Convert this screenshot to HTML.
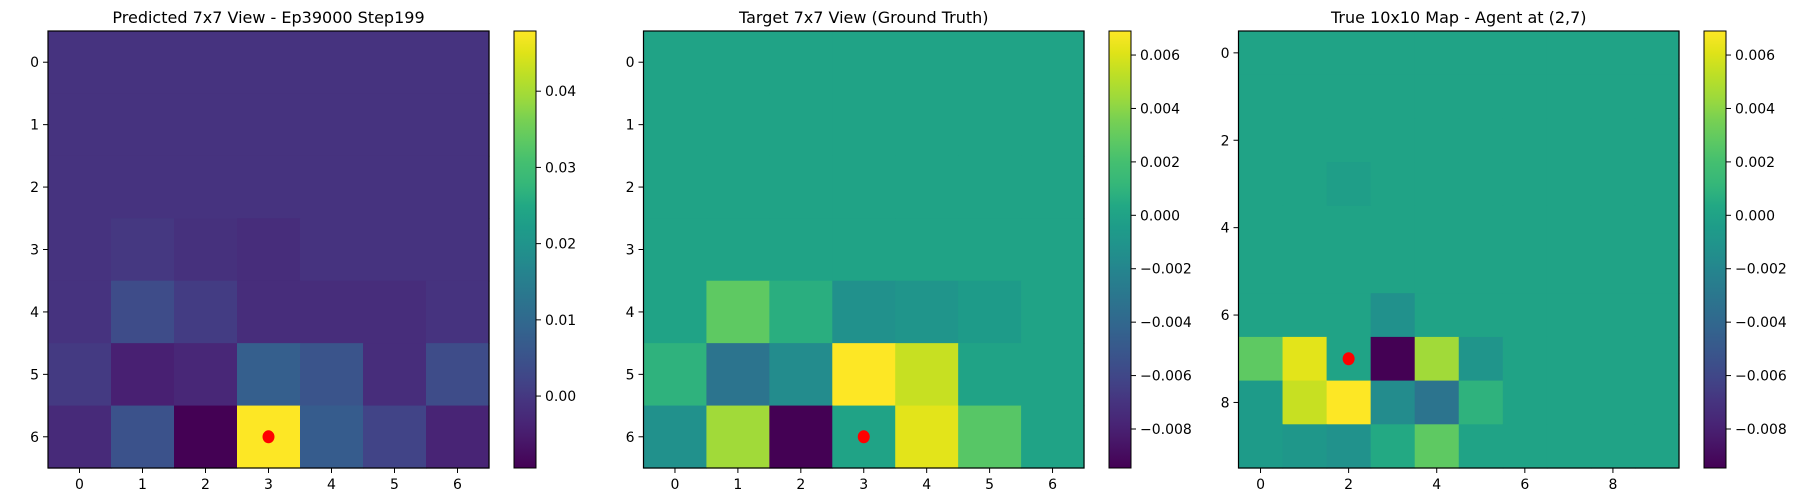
<!DOCTYPE html>
<html><head><meta charset="utf-8"><style>
body{margin:0;background:#fff;}
svg{display:block;font-family:"DejaVu Sans","Liberation Sans",sans-serif;}
</style></head><body>
<svg id="fig" width="1800" height="500"></svg>
<script>
const p1Title = "Predicted 7x7 View - Ep39000 Step199";
const p2Title = "Target 7x7 View (Ground Truth)";
const p3Title = "True 10x10 Map - Agent at (2,7)";
const p1Range = [-0.00944, 0.0479];
const p2Range = [-0.00946, 0.0069];
const p3Range = [-0.00946, 0.0069];
// panel 1 values (7x7)
const p1Values = [
 [-0.0009,-0.0009,-0.0009,-0.0009,-0.0009,-0.0009,-0.0009],
 [-0.0009,-0.0009,-0.0009,-0.0009,-0.0009,-0.0009,-0.0009],
 [-0.0009,-0.0009,-0.0009,-0.0009,-0.0009,-0.0009,-0.0009],
 [-0.0009,0.0000,-0.0013,-0.0020,-0.0009,-0.0009,-0.0009],
 [-0.0009,0.0037,0.0007,-0.0020,-0.0020,-0.0020,-0.0009],
 [0.0003,-0.0043,-0.0031,0.0077,0.0054,-0.0020,0.0037],
 [-0.0026,0.0048,-0.0094,0.0479,0.0072,0.0020,-0.0037]
];
const p2Values = [
 [0,0,0,0,0,0,0],[0,0,0,0,0,0,0],[0,0,0,0,0,0,0],[0,0,0,0,0,0,0],
 [0,0.0028,0.0007,-0.0013,-0.0010,-0.0005,0],
 [0.0009,-0.0032,-0.0016,0.0069,0.0055,0,0],
 [-0.0013,0.0045,-0.0095,0,0.0062,0.0026,0]
];
const p3Values = [
 [0,0,0,0,0,0,0,0,0,0],[0,0,0,0,0,0,0,0,0,0],[0,0,0,0,0,0,0,0,0,0],
 [0,0,-0.0003,0,0,0,0,0,0,0],[0,0,0,0,0,0,0,0,0,0],[0,0,0,0,0,0,0,0,0,0],
 [0,0,0,-0.0013,0,0,0,0,0,0],
 [0.0028,0.0062,0,-0.0095,0.0045,-0.0010,0,0,0,0],
 [-0.0005,0.0055,0.0069,-0.0016,-0.0032,0.0009,0,0,0,0],
 [-0.0005,-0.0008,-0.0012,0.0004,0.0028,0,0,0,0,0]
];
const p1Agent = [3,6], p2Agent = [3,6], p3Agent = [2,7];
const p1Ticks = [0,1,2,3,4,5,6], p3Ticks = [0,2,4,6,8];
const p1CbTicks = [0.00,0.01,0.02,0.03,0.04];
const p1CbLabels = ["0.00","0.01","0.02","0.03","0.04"];
const p2CbTicks = [-0.008,-0.006,-0.004,-0.002,0,0.002,0.004,0.006];
const p2CbLabels = ["\u22120.008","\u22120.006","\u22120.004","\u22120.002","0.000","0.002","0.004","0.006"];

const VIR=["#440154","#471365","#482475","#46337f","#414487","#3b528b","#355f8d","#2f6c8e","#2a788e","#25848e","#21918c","#1e9c89","#22a884","#35b779","#44bf70","#5ec962","#7ad151","#9fda3a","#bddf26","#dfe318","#fde725"];
function hx(c){return [1,3,5].map(i=>parseInt(c.substr(i,2),16));}
function viridis(t){t=Math.max(0,Math.min(1,t));const f=t*20,i=Math.min(19,Math.floor(f)),r=f-i;
 const a=hx(VIR[i]),b=hx(VIR[i+1]);return "rgb("+a.map((v,k)=>Math.round(v+(b[k]-v)*r)).join(",")+")";}
const NS="http://www.w3.org/2000/svg";
const svg=document.getElementById('fig');
function mk(tag,attrs,parent){const e=document.createElementNS(NS,tag);for(const k in attrs)e.setAttribute(k,attrs[k]);(parent||svg).appendChild(e);return e;}
function txt(s,x,y,anchor,size,parent){const t=mk('text',{x:x,y:y,'text-anchor':anchor,'font-size':size,fill:'#000'},parent);t.textContent=s;return t;}

function panel(id,title,vals,range,agent,xt,yt,cbT,cbL,L,R,T,B,cbL0,cbR0){
 const g=mk('g',{});
 
 
 const n=vals.length, cw=(R-L)/n, ch=(B-T)/n;
 const sx=v=>L+(v+0.5)*cw, sy=v=>T+(v+0.5)*ch;
 const norm=v=>(v-range[0])/(range[1]-range[0]);
 for(let r=0;r<n;r++)for(let c=0;c<n;c++){
  const rc=mk('rect',{x:L+c*cw,y:T+r*ch,width:cw+0.6,height:ch+0.6,fill:viridis(norm(vals[r][c]))},g);
  
  
 }
 const dot=mk('ellipse',{cx:sx(agent[0]),cy:sy(agent[1]),rx:6,ry:6.5,fill:'#ff0000'},g);
 
 
 mk('rect',{x:L,y:T,width:R-L,height:B-T,fill:'none',stroke:'#000','stroke-width':1.2},g);
 const tt=txt(title,(L+R)/2,23,'middle',16,g);
 
 
 xt.forEach(v=>{mk('line',{x1:sx(v),x2:sx(v),y1:B,y2:B+5,stroke:'#000'},g);
  const l=txt(String(v),sx(v),489,'middle',14,g);
  
  });
 yt.forEach(v=>{mk('line',{x1:L-5,x2:L,y1:sy(v),y2:sy(v),stroke:'#000'},g);
  const l=txt(String(v),L-9,sy(v)+5,'end',14,g);
  
  });
 const gid='grad'+id;
 const grad=mk('linearGradient',{id:gid,x1:0,y1:1,x2:0,y2:0},g);
 for(let i=0;i<=40;i++)mk('stop',{offset:i/40,'stop-color':viridis(i/40)},grad);
 const cb=mk('rect',{x:cbL0,y:T,width:cbR0-cbL0,height:B-T,fill:'url(#'+gid+')',stroke:'#000','stroke-width':1},g);
 
 
 const cy=v=>B-norm(v)*(B-T);
 cbT.forEach((v,i)=>{mk('line',{x1:cbR0,x2:cbR0+5,y1:cy(v),y2:cy(v),stroke:'#000'},g);
  const l=txt(cbL[i],cbR0+9,cy(v)+5,'start',14,g);
  
  });
}
panel('predicted',p1Title,p1Values,p1Range,p1Agent,p1Ticks,p1Ticks,p1CbTicks,p1CbLabels,48,489,31,468,514,536);
panel('target',p2Title,p2Values,p2Range,p2Agent,p1Ticks,p1Ticks,p2CbTicks,p2CbLabels,643.5,1084,31,468,1109,1131);
panel('true-map',p3Title,p3Values,p3Range,p3Agent,p3Ticks,p3Ticks,p2CbTicks,p2CbLabels,1238.5,1679,31,468,1704,1726);
</script>
</body></html>
